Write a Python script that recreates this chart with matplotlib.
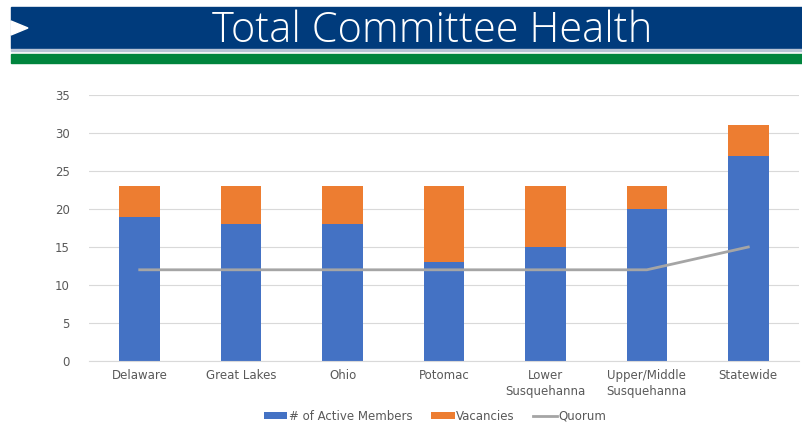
import matplotlib.pyplot as plt
from matplotlib.patches import Rectangle, Polygon

categories = ['Delaware', 'Great Lakes', 'Ohio', 'Potomac', 'Lower\nSusquehanna',
              'Upper/Middle\nSusquehanna', 'Statewide']
active = [19, 18, 18, 13, 15, 20, 27]
vacancies = [4, 5, 5, 10, 8, 3, 4]
quorum = [12, 12, 12, 12, 12, 12, 15]

W, H = 803, 425
fig = plt.figure(figsize=(W / 100, H / 100), dpi=100)

# header banner
fig.patches.append(Rectangle((11 / W, 1 - 48 / H), 1, 41 / H, transform=fig.transFigure,
                             color='#003B7C', zorder=0))
fig.patches.append(Rectangle((11 / W, 1 - 51 / H), 1, 2 / H, transform=fig.transFigure,
                             color='#B8C4D6', zorder=0))
fig.patches.append(Rectangle((11 / W, 1 - 63 / H), 1, 9 / H, transform=fig.transFigure,
                             color='#00843D', zorder=0))
fig.patches.append(Polygon([(11 / W, 1 - 21 / H), (28 / W, 1 - 28 / H), (11 / W, 1 - 35 / H)],
                           closed=True, transform=fig.transFigure, color='white', zorder=1))
fig.text(432 / W, 1 - 31 / H, 'Total Committee Health', color='white', fontsize=30,
         family='Open Sans', fontweight='light', ha='center', va='center')

ax = fig.add_axes([89 / W, 1 - 361 / H, 710 / W, 266 / H])
x = range(len(categories))
b1 = ax.bar(x, active, width=0.4, color='#4472C4', label='# of Active Members', zorder=2)
b2 = ax.bar(x, vacancies, width=0.4, bottom=active, color='#ED7D31', label='Vacancies', zorder=2)
l1, = ax.plot(x, quorum, color='#A5A5A5', linewidth=2, label='Quorum', zorder=3)

ax.set_xlim(-0.5, len(categories) - 0.5)
ax.set_ylim(0, 35)
ax.set_yticks(range(0, 36, 5))
ax.set_xticks(list(x))
ax.set_xticklabels(categories, fontsize=8.5, color='#595959', linespacing=1.3)
ax.tick_params(axis='y', labelsize=8.5, labelcolor='#595959', length=0, pad=14)
ax.tick_params(axis='x', length=0, pad=6)
ax.grid(axis='y', color='#D9D9D9', linewidth=0.8, zorder=0)
for s in ['top', 'right', 'left']:
    ax.spines[s].set_visible(False)
ax.spines['bottom'].set_color('#D9D9D9')

ax.legend([b1, b2, l1], ['# of Active Members', 'Vacancies', 'Quorum'],
          loc='center', bbox_to_anchor=(435 / W, 1 - 416 / H), bbox_transform=fig.transFigure,
          ncol=3, frameon=False, fontsize=8.5, labelcolor='#595959', handlelength=2,
          handleheight=0.6, handletextpad=0.1, columnspacing=1.6)

fig.savefig('out.png', dpi=100)
